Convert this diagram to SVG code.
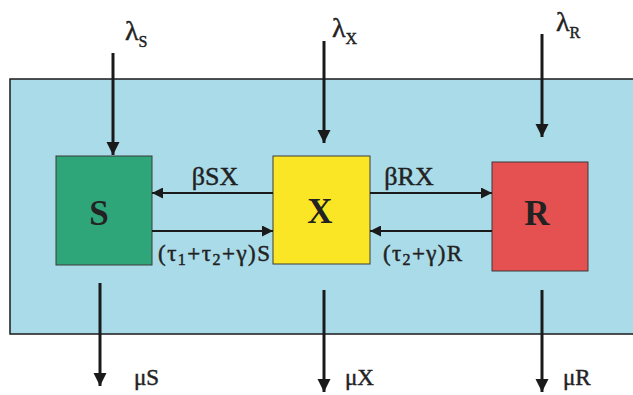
<svg xmlns="http://www.w3.org/2000/svg" width="633" height="395" viewBox="0 0 633 395">
<style>
.lbl{font-family:"Liberation Serif","DejaVu Serif",serif;font-size:23px;fill:#222;stroke:#222;stroke-width:0.45}
.big{font-size:26px}
.lam{font-size:28px}
.sub{font-size:16px}
.node{font-family:"Liberation Serif","DejaVu Serif",serif;font-size:35px;font-weight:bold;fill:#222;text-anchor:middle}
.box{stroke:#3a3a3a;stroke-width:1}
.v{stroke:#1a1a1a;stroke-width:3;fill:none}
.h{stroke:#1a1a1a;stroke-width:2.2;fill:none}
</style>
<defs>
<marker id="ah" viewBox="0 0 10 10" refX="10" refY="5" markerWidth="4.5" markerHeight="4.5" orient="auto" markerUnits="strokeWidth">
<path d="M0,0 L10,5 L0,10 z" fill="#1a1a1a"/>
</marker>
<marker id="ahs" viewBox="0 0 10 10" refX="10" refY="5" markerWidth="5.8" markerHeight="5" orient="auto" markerUnits="strokeWidth">
<path d="M0,0 L10,5 L0,10 z" fill="#1a1a1a"/>
</marker>
</defs>
<rect id="background" x="10" y="79" width="630" height="255" fill="#aadbe9" stroke="#1a1a1a" stroke-width="1.5"/>
<g id="node-S"><rect class="box" x="56" y="156" width="96" height="109" fill="#2fa57a"/><text class="node" x="99" y="225">S</text></g>
<g id="node-X"><rect class="box" x="273" y="156" width="97" height="108" fill="#fbe625"/><text class="node" x="320" y="223">X</text></g>
<g id="node-R"><rect class="box" x="492" y="162" width="96" height="109" fill="#e45150"/><text class="node" x="537" y="225">R</text></g>
<g id="connectors">
<line class="v" x1="113" y1="53" x2="113" y2="155" marker-end="url(#ah)"/>
<line class="v" x1="324" y1="41" x2="324" y2="143" marker-end="url(#ah)"/>
<line class="v" x1="542" y1="34" x2="542" y2="137" marker-end="url(#ah)"/>
<line class="v" x1="100" y1="283" x2="100" y2="386" marker-end="url(#ah)"/>
<line class="v" x1="324" y1="290" x2="324" y2="392" marker-end="url(#ah)"/>
<line class="v" x1="542" y1="290" x2="542" y2="392" marker-end="url(#ah)"/>
<line class="h" x1="273" y1="193" x2="152" y2="193" marker-end="url(#ahs)"/>
<line class="h" x1="152" y1="231" x2="273" y2="231" marker-end="url(#ahs)"/>
<line class="h" x1="370" y1="193" x2="492" y2="193" marker-end="url(#ahs)"/>
<line class="h" x1="492" y1="231" x2="370" y2="231" marker-end="url(#ahs)"/>
</g>
<g id="labels">
<text class="lbl lam" x="125" y="40">λ<tspan class="sub" dy="7">S</tspan></text>
<text class="lbl lam" x="332" y="37">λ<tspan class="sub" dy="7">X</tspan></text>
<text class="lbl lam" x="556" y="31">λ<tspan class="sub" dy="7">R</tspan></text>
<text class="lbl big" x="215" y="185" text-anchor="middle">βSX</text>
<text class="lbl big" x="409" y="185" text-anchor="middle">βRX</text>
<text class="lbl" x="158" y="261" textLength="112">(τ<tspan class="sub" dy="4">1</tspan><tspan dy="-4">+τ</tspan><tspan class="sub" dy="4">2</tspan><tspan dy="-4">+γ)S</tspan></text>
<text class="lbl" x="383" y="261" textLength="79">(τ<tspan class="sub" dy="4">2</tspan><tspan dy="-4">+γ)R</tspan></text>
<text class="lbl" x="134" y="385">μS</text>
<text class="lbl" x="345" y="385">μX</text>
<text class="lbl" x="563" y="385">μR</text>
</g>
</svg>
